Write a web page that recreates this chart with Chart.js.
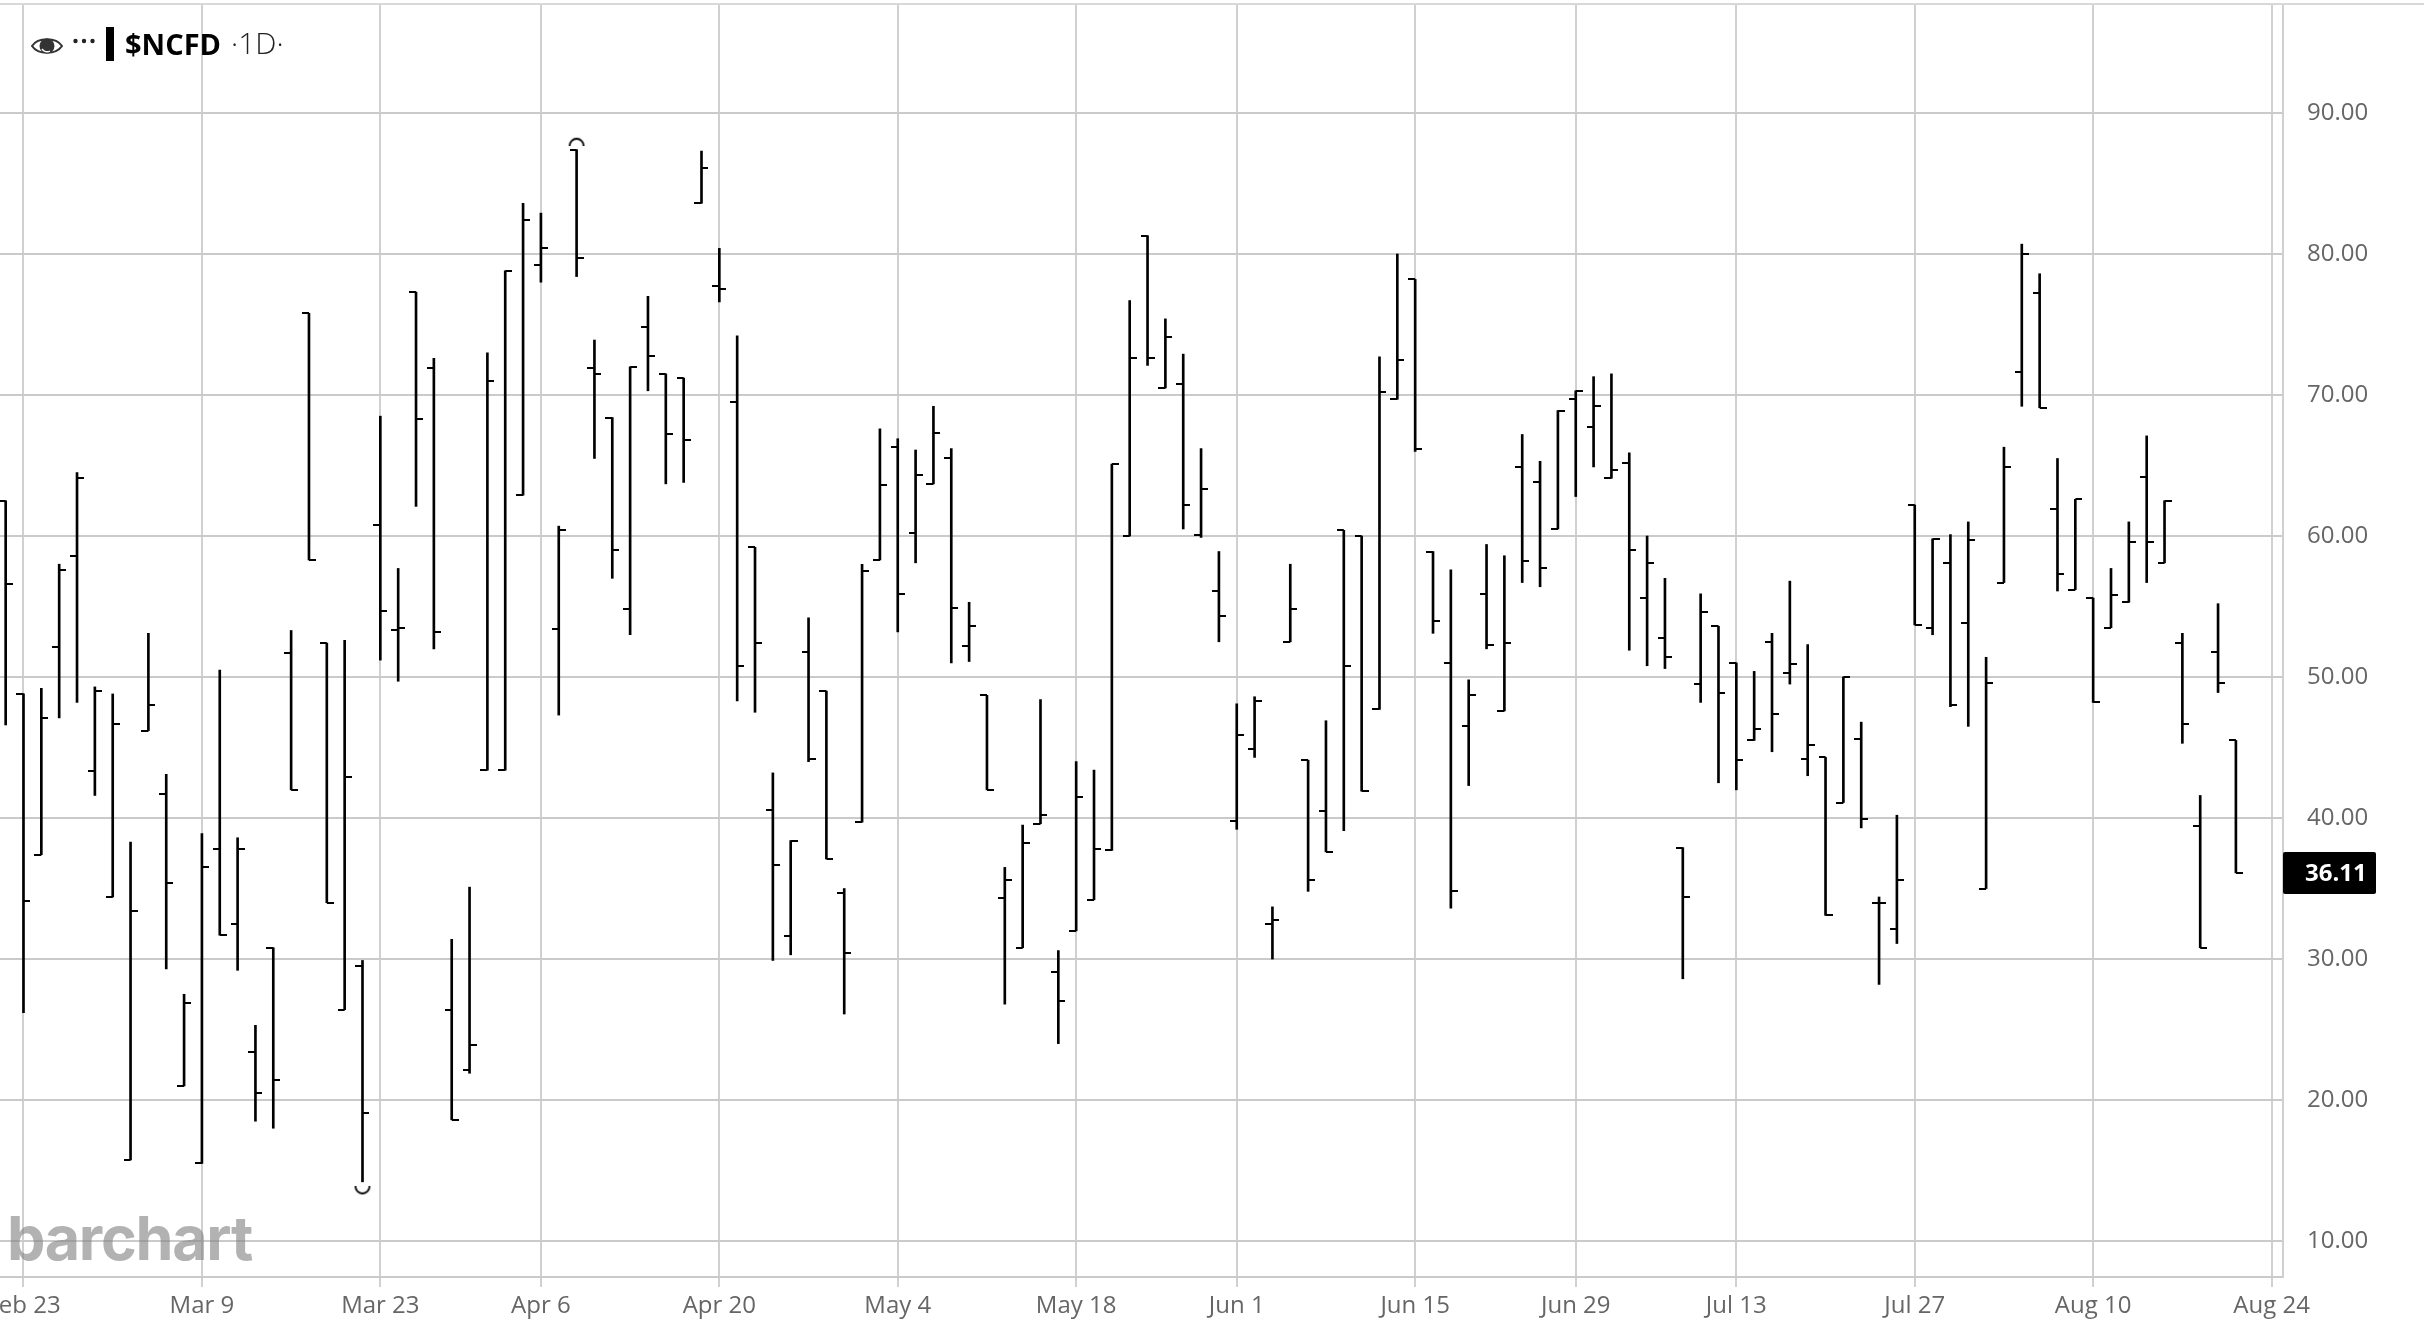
<!DOCTYPE html>
<html>
<head>
<meta charset="utf-8">
<style>
html,body{margin:0;padding:0;background:#fff;width:2424px;height:1326px;overflow:hidden}
#wrap{position:relative;width:2424px;height:1326px}
canvas{position:absolute;left:0;top:0}
#topline{position:absolute;left:0;top:3px;width:2424px;height:2px;background:#d8d8d8}
.t{position:absolute;white-space:nowrap;font-family:"Open Sans",sans-serif;line-height:1}
#sym{left:125px;top:29px;font-size:29px;font-weight:700;color:#000}
#res{left:231px;top:28px;font-size:30px;font-weight:300;color:#222}
#dots{position:absolute;left:72px;top:36px}
#sep{position:absolute;left:106px;top:27px;width:8px;height:34px;background:#000}
#eye{position:absolute;left:31px;top:34px}
#logo{left:7px;top:1208px;font-family:"Inter",sans-serif;font-size:61px;font-weight:700;color:rgba(130,130,130,.62);letter-spacing:-1.3px}
</style>
</head>
<body>
<div id="wrap">
<canvas id="c" width="2424" height="1326"></canvas>
<div id="topline"></div>
<svg id="eye" width="32" height="24" viewBox="0 0 32 24"><path d="M1 12 C7 3 25 3 31 12 C25 21 7 21 1 12 Z" fill="none" stroke="#333" stroke-width="2"/><circle cx="16" cy="12" r="7.5" fill="#333"/><path d="M11 15 A6 6 0 0 0 19 17" fill="none" stroke="#fff" stroke-width="1.4"/></svg>
<svg id="dots" width="24" height="10" viewBox="0 0 24 10"><circle cx="3.5" cy="5" r="2.2" fill="#222"/><circle cx="12" cy="5" r="2.2" fill="#222"/><circle cx="20.5" cy="5" r="2.2" fill="#222"/></svg>
<div id="sep"></div>
<div id="sym" class="t">$NCFD</div>
<div id="res" class="t">·1D·</div>
<div id="logo" class="t">barchart</div>
</div>
<script src="https://cdn.jsdelivr.net/npm/chart.js@4/dist/chart.umd.js"></script>
<script>
const tickIndex=[1,11,21,30,40,50,60,69,79,88,97,107,117,127];
const tickLabels=["Feb 23","Mar 9","Mar 23","Apr 6","Apr 20","May 4","May 18","Jun 1","Jun 15","Jun 29","Jul 13","Jul 27","Aug 10","Aug 24"];
const yTicks=[10,20,30,40,50,60,70,80,90];
const opens=[62.5,48.8,37.4,52.1,58.6,43.3,34.4,15.75,46.2,41.7,21,15.5,37.8,32.5,23.4,30.8,51.7,75.8,52.4,26.4,29.5,60.8,53.3,77.3,71.9,26.4,22.1,43.4,43.4,62.9,79.2,53.4,87.4,71.9,68.4,54.8,74.8,71.5,71.2,83.6,77.7,69.5,59.2,40.6,31.6,51.8,49,34.7,39.7,58.3,66.3,60.2,63.7,65.5,52.2,48.7,34.3,30.8,39.6,29.1,32,34.2,37.7,60,81.3,70.5,70.8,60.1,56.1,39.8,44.9,32.5,52.5,44.1,40.5,60.4,60,47.7,69.7,78.2,58.9,51,46.5,55.9,47.6,64.9,63.8,60.5,69.7,67.7,64.1,65.2,55.6,52.8,37.9,49.5,53.6,51,45.5,52.5,50.3,44.2,44.3,41.1,45.6,34,32.1,62.2,53.5,58.1,53.8,35,56.7,71.6,77.2,61.9,56.2,55.6,53.5,55.3,64.2,58.1,52.4,39.4,51.8,45.5];
const highs=[62.5,48.8,49.2,58,64.5,49.3,48.8,38.3,53.1,43.1,27.5,38.9,50.5,38.6,25.3,30.8,53.3,75.8,52.4,52.6,29.9,68.5,57.7,77.3,72.6,31.4,35.1,73,78.8,83.6,82.9,60.7,87.4,73.9,68.4,72,77,71.5,71.2,87.3,80.4,74.2,59.2,43.2,38.4,54.2,49,35,58,67.6,66.9,66.1,69.2,66.2,55.3,48.7,36.5,39.5,48.4,30.6,44,43.4,65.1,76.7,81.3,75.4,72.9,66.2,58.9,48.1,48.6,33.7,58,44.1,46.9,60.4,60,72.7,80,78.2,58.9,57.6,49.8,59.4,58.6,67.2,65.3,68.9,70.3,71.3,71.5,65.9,60,57,37.9,55.9,53.6,51,50.4,53.1,56.8,52.3,44.3,50,46.8,34.4,40.2,62.2,59.8,60.1,61,51.4,66.3,80.7,78.6,65.5,62.6,55.6,57.7,61,67.1,62.5,53.1,41.6,55.2,45.5];
const lows=[46.6,26.2,37.4,47.1,48.2,41.6,34.4,15.75,46.2,29.3,21,15.5,31.7,29.2,18.5,18,42,58.3,34,26.4,14.2,51.2,49.7,62.1,52,18.6,21.9,43.4,43.4,62.9,78,47.3,78.4,65.5,57,53,70.3,63.7,63.8,83.6,76.6,48.3,47.5,29.9,30.3,44,37.1,26.1,39.7,58.3,53.2,58.1,63.7,51,51.1,42,26.8,30.8,39.6,24,32,34.2,37.7,60,72.1,70.5,60.5,59.9,52.5,39.2,44.3,30,52.5,34.8,37.6,39.1,41.9,47.7,69.7,66,53.1,33.6,42.3,52,47.6,56.7,56.4,60.5,62.8,64.9,64.1,51.9,50.8,50.6,28.6,48.2,42.5,42,45.5,44.7,49.5,43,33.1,41.1,39.3,28.2,31.1,53.7,53,47.9,46.5,35,56.7,69.2,69.1,56.1,56.2,48.2,53.5,55.3,56.7,58.1,45.3,30.8,48.9,36.11];
const closes=[56.6,34.1,47.1,57.6,64.1,49,46.7,33.4,48,35.4,26.9,36.5,31.7,37.8,20.5,21.4,42,58.3,34,42.9,19.1,54.7,53.5,68.3,53.2,18.6,23.9,71,78.8,82.4,80.4,60.4,79.7,71.5,59,72,72.8,67.2,66.8,86.1,77.5,50.8,52.4,36.7,38.4,44.2,37.1,30.4,57.5,63.6,55.9,64.3,67.3,54.9,53.6,42,35.6,38.2,40.2,27,41.5,37.8,65.1,72.6,72.6,74.1,62.2,63.3,54.3,45.9,48.3,32.8,54.8,35.6,37.6,50.8,41.9,70.2,72.5,66.2,54,34.8,48.7,52.3,52.4,58.2,57.7,68.9,70.3,69.2,64.7,59,58.1,51.4,34.4,54.6,48.9,44.1,46.3,47.4,50.9,45.2,33.1,50,39.9,34,35.6,53.7,59.8,48,59.7,49.6,64.9,80,69.1,57.3,62.6,48.2,55.8,59.6,59.6,62.5,46.7,30.8,49.6,36.11];
const highMark=[{x:32,y:88}];
const lowMark=[{x:20,y:13.55}];
const lastPrice=36.11;
const xMin=-0.317,xMax=127.64,yMin=7.45,yMax=97.73;

const gridX="#d0d0d0", gridY="#cacaca", labelCol="#666666", font='"Open Sans", sans-serif';
function noPad(s){s.paddingLeft=0;s.paddingRight=0;s.paddingTop=0;s.paddingBottom=0;}
function tickCanvas(side){
  const c=document.createElement('canvas');c.width=14;c.height=2;
  const g=c.getContext('2d');g.fillStyle='#000';
  if(side<0)g.fillRect(0,0,7,2);else g.fillRect(7,0,7,2);
  return c;
}
function arcCanvas(up){
  const c=document.createElement('canvas');c.width=18;c.height=9;
  const g=c.getContext('2d');g.strokeStyle='#000';g.lineWidth=1.8;g.beginPath();
  if(up)g.arc(9,9,7,Math.PI,2*Math.PI);else g.arc(9,0,7,0,Math.PI);
  g.stroke();return c;
}
const idx=opens.map((_,i)=>i);
const pricePlugin={id:'price',afterDraw(ch){
  const y=ch.scales.y.getPixelForValue(lastPrice),x=ch.chartArea.right,g=ch.ctx;
  g.save();g.fillStyle='#000';g.beginPath();g.roundRect(x,y-21,93,42,2);g.fill();
  g.fillStyle='#fff';g.font='700 24px '+font;g.textAlign='left';g.textBaseline='middle';
  g.fillText(lastPrice.toFixed(2),x+22,y+1);g.restore();
}};
new Chart(document.getElementById('c'),{
  type:'bar',
  data:{datasets:[
    {type:'bar',label:'High-Low',data:idx.map(i=>({x:i,y:[lows[i],highs[i]]})),backgroundColor:'#000',borderWidth:0,barThickness:2,order:2},
    {type:'scatter',label:'Open',data:idx.map(i=>({x:i,y:opens[i]})),pointStyle:tickCanvas(-1),pointRadius:4,order:1},
    {type:'scatter',label:'Close',data:idx.map(i=>({x:i,y:closes[i]})),pointStyle:tickCanvas(1),pointRadius:4,order:1},
    {type:'scatter',label:'High mark',data:highMark,pointStyle:arcCanvas(true),pointRadius:4,order:1},
    {type:'scatter',label:'Low mark',data:lowMark,pointStyle:arcCanvas(false),pointRadius:4,order:1}
  ]},
  options:{
    responsive:false,animation:false,devicePixelRatio:1,
    layout:{padding:{top:4,left:0,right:0,bottom:0},autoPadding:false},
    plugins:{legend:{display:false},tooltip:{enabled:false}},
    scales:{
      x:{type:'linear',position:'bottom',min:xMin,max:xMax,offset:false,
        afterBuildTicks(s){s.ticks=tickIndex.map(v=>({value:v}));},
        afterFit(s){s.height=49;noPad(s);},
        grid:{color:gridX,lineWidth:2,drawTicks:true,tickLength:10,tickColor:gridX,offset:false},
        border:{color:gridY,width:2},
        ticks:{autoSkip:false,maxRotation:0,minRotation:0,padding:5,color:labelCol,font:{family:font,size:24},
          callback(v){const k=tickIndex.indexOf(v);return k<0?'':tickLabels[k];}}
      },
      y:{type:'linear',position:'right',min:yMin,max:yMax,
        afterBuildTicks(s){s.ticks=yTicks.map(v=>({value:v}));},
        afterFit(s){s.width=141;noPad(s);},
        grid:{color:gridY,lineWidth:2,drawTicks:false},
        border:{color:gridX,width:2},
        ticks:{padding:24,color:labelCol,font:{family:font,size:24},callback(v){return v.toFixed(2);}}
      }
    }
  },
  plugins:[pricePlugin]
});
</script>
</body>
</html>
